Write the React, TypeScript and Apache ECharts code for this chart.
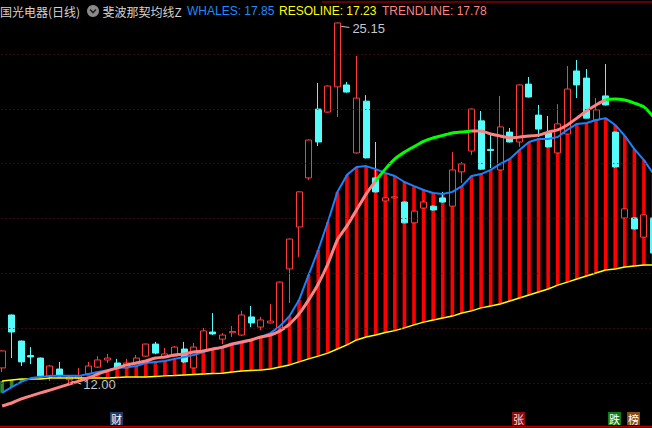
import React, { useEffect, useRef } from "react";
import * as echarts from "echarts";

// [open, close, low, high]
const ohlc: number[][] = [
  [12.55, 13.17, 12.4, 13.2],
  [14.48, 13.86, 12.91, 14.5],
  [13.53, 12.77, 12.62, 13.55],
  [13.0, 12.95, 12.69, 13.31],
  [12.91, 12.26, 12.2, 12.93],
  [12.26, 12.62, 12.07, 12.66],
  [12.51, 12.29, 12.27, 12.77],
  [12.12, 12.22, 12.0, 12.28],
  [12.18, 12.26, 12.11, 12.55],
  [12.33, 12.62, 12.3, 12.77],
  [12.58, 12.84, 12.55, 12.98],
  [12.84, 12.91, 12.73, 13.06],
  [12.73, 12.55, 12.5, 12.88],
  [12.55, 12.73, 12.52, 12.88],
  [12.73, 12.91, 12.7, 13.02],
  [12.98, 13.42, 12.95, 13.44],
  [13.42, 13.09, 13.05, 13.5],
  [12.95, 13.06, 12.93, 13.28],
  [12.98, 13.31, 12.96, 13.35],
  [13.24, 12.77, 12.73, 13.5],
  [12.55, 13.31, 12.53, 13.46],
  [13.17, 13.9, 13.15, 14.01],
  [13.86, 13.79, 13.75, 14.55],
  [13.6, 13.75, 13.42, 13.82],
  [13.83, 13.88, 13.68, 14.08],
  [13.75, 14.48, 13.72, 14.63],
  [14.41, 14.19, 14.04, 14.81],
  [14.04, 14.3, 13.93, 14.41],
  [14.19, 14.26, 14.17, 14.88],
  [14.01, 15.68, 13.99, 15.7],
  [16.16, 17.25, 14.92, 17.27],
  [17.69, 18.97, 16.6, 19.0],
  [19.48, 20.86, 19.4, 20.88],
  [21.99, 20.79, 20.64, 22.94],
  [21.88, 22.83, 21.86, 22.85],
  [22.8, 25.13, 21.7, 25.15],
  [22.87, 22.61, 22.59, 22.98],
  [20.39, 22.39, 20.37, 23.93],
  [22.28, 20.21, 20.19, 22.5],
  [19.48, 18.97, 18.95, 20.79],
  [18.64, 18.75, 18.62, 18.77],
  [18.75, 18.79, 18.73, 18.81],
  [18.6, 17.84, 17.82, 18.62],
  [17.84, 18.27, 17.82, 18.29],
  [18.38, 18.6, 18.36, 18.67],
  [18.45, 18.31, 18.29, 18.47],
  [18.75, 18.6, 18.58, 18.97],
  [18.45, 19.77, 18.43, 20.42],
  [19.7, 19.99, 19.29, 20.06],
  [20.46, 21.99, 20.32, 22.01],
  [21.56, 19.8, 19.78, 21.92],
  [20.52, 20.48, 19.84, 21.12],
  [19.77, 21.34, 19.75, 22.47],
  [21.15, 20.79, 20.77, 21.3],
  [20.79, 22.87, 20.61, 22.89],
  [22.9, 22.43, 22.41, 23.16],
  [21.77, 21.26, 20.97, 22.14],
  [21.12, 20.61, 20.59, 21.74],
  [20.39, 21.45, 20.37, 22.17],
  [21.08, 22.72, 21.06, 23.56],
  [23.38, 22.87, 22.39, 23.78],
  [23.12, 21.66, 21.64, 23.45],
  [21.59, 21.96, 21.57, 22.39],
  [22.47, 22.14, 22.12, 23.63],
  [21.15, 19.88, 19.86, 21.17],
  [18.02, 18.35, 18.0, 18.37],
  [18.02, 17.62, 17.6, 18.04],
  [17.32, 18.13, 17.3, 18.15],
  [18.02, 16.74, 16.72, 18.04],
];

const whales = [
  11.64, 11.85, 12.04, 12.18, 12.22, 12.26, 12.26, 12.26, 12.26, 12.33,
  12.4, 12.47, 12.55, 12.57, 12.62, 12.73, 12.77, 12.8, 12.88, 12.95,
  13.02, 13.13, 13.24, 13.28, 13.39, 13.46, 13.57, 13.68, 13.82, 14.08,
  14.44, 15.03, 15.94, 16.85, 17.87, 18.97, 19.59, 19.88, 19.91, 19.8,
  19.66, 19.55, 19.33, 19.18, 19.04, 18.93, 18.89, 18.97, 19.18, 19.55,
  19.62, 19.77, 19.99, 20.17, 20.5, 20.79, 20.9, 20.9, 20.97, 21.23,
  21.45, 21.48, 21.59, 21.66, 21.41, 21.01, 20.53, 20.13, 19.62,
];

const resoline = [
  12.07, 12.11, 12.15, 12.15, 12.15, 12.18, 12.18, 12.18, 12.18, 12.18,
  12.18, 12.18, 12.2, 12.22, 12.22, 12.22, 12.24, 12.26, 12.27, 12.29,
  12.31, 12.33, 12.35, 12.36, 12.4, 12.44, 12.46, 12.47, 12.51, 12.58,
  12.66, 12.77, 12.88, 12.98, 13.09, 13.24, 13.39, 13.57, 13.68, 13.75,
  13.84, 13.91, 14.01, 14.12, 14.22, 14.3, 14.37, 14.44, 14.55, 14.63,
  14.74, 14.81, 14.88, 14.99, 15.1, 15.21, 15.32, 15.43, 15.57, 15.68,
  15.79, 15.9, 16.01, 16.12, 16.16, 16.23, 16.27, 16.3, 16.3,
];

const trendline = [
  11.16, 11.27, 11.42, 11.53, 11.64, 11.74, 11.85, 11.96, 12.07, 12.18,
  12.33, 12.44, 12.55, 12.66, 12.73, 12.8, 12.91, 12.95, 13.02, 13.06,
  13.13, 13.17, 13.24, 13.31, 13.42, 13.5, 13.57, 13.68, 13.75, 13.9,
  14.15, 14.52, 15.03, 15.61, 16.34, 17.22, 17.73, 18.31, 18.89, 19.37,
  19.8, 20.17, 20.42, 20.62, 20.81, 20.94, 21.03, 21.12, 21.15, 21.19,
  21.19, 21.08, 21.01, 20.94, 20.97, 21.01, 21.04, 21.15, 21.23, 21.41,
  21.66, 21.92, 22.14, 22.32, 22.36, 22.32, 22.21, 22.07, 21.7,
];

// indices where the trend line is drawn green
const trendGreenIdx = [19, 39, 40, 41, 42, 43, 44, 45, 46, 47, 48, 50, 53, 57, 61, 63, 64, 65, 66, 67, 68];

const gridLevels = [12, 14, 16, 18, 20, 22, 24];

const title = {
  name: "国光电器(日线)",
  indicator: "斐波那契均线Z",
  whales: "WHALES: 17.85",
  reso: "RESOLINE: 17.23",
  trend: "TRENDLINE: 17.78",
};

const badges = [
  { text: "财", bg: "#1d3c6e", fg: "#ffffff", x: 110 },
  { text: "张", bg: "#8a0c0c", fg: "#ffd8d8", x: 512 },
  { text: "跌", bg: "#107a14", fg: "#ffffff", x: 608 },
  { text: "榜", bg: "#8a4a12", fg: "#ffffff", x: 627 },
];

function buildGreenPieces() {
  const pieces: any[] = [];
  let start = -1;
  for (let i = 0; i <= ohlc.length; i++) {
    const g = trendGreenIdx.includes(i);
    if (g && start < 0) start = i;
    if (!g && start >= 0) {
      const end = i - 1;
      if (end === start) pieces.push({ gte: start - 0.25, lte: start + 0.4, color: "#00ff00" });
      else pieces.push({ gte: start - 0.05, lte: end + (end === ohlc.length - 1 ? 2 : 1.0), color: "#00ff00" });
      start = -1;
    }
  }
  return pieces;
}

export default function App() {
  const ref = useRef<HTMLDivElement>(null);
  useEffect(() => {
    if (!ref.current) return;
    const chart = echarts.init(ref.current, undefined, { renderer: "svg" });
    const cats = ohlc.map((_, i) => String(i + 1));
    const barData = ohlc.map((_, i) => [i, resoline[i], whales[i]]);
    const yMax = 25.968;
    const yMin = 10.359;
    chart.setOption({
      animation: false,
      backgroundColor: "#000000",
      grid: {
        left: -2.69,
        width: 661,
        top: 0,
        height: 428,
        containLabel: false,
        outerBoundsMode: "none",
      },
      xAxis: {
        type: "category",
        data: cats,
        boundaryGap: true,
        axisLine: { show: false },
        axisTick: { show: false },
        axisLabel: { show: false },
        splitLine: { show: false },
      },
      yAxis: {
        type: "value",
        min: yMin,
        max: yMax,
        axisLine: { show: false },
        axisTick: { show: false },
        axisLabel: { show: false },
        splitLine: { show: false },
      },
      visualMap: {
        show: false,
        type: "piecewise",
        seriesIndex: 4,
        dimension: 0,
        pieces: buildGreenPieces(),
        outOfRange: { color: "#ff8282" },
      },
      series: [
        {
          type: "custom",
          name: "sticks",
          data: barData,
          encode: { x: 0, y: [1, 2] },
          renderItem: (params: any, api: any) => {
            const k = api.value(0);
            const a = api.value(1);
            const b = api.value(2);
            const p1 = api.coord([k, a]);
            const p2 = api.coord([k, b]);
            const w = 3.6;
            return {
              type: "rect",
              shape: { x: p1[0] - w / 2, y: Math.min(p1[1], p2[1]), width: w, height: Math.abs(p1[1] - p2[1]) },
              style: { fill: b >= a ? "#ff0000" : "#2e8b2e" },
            };
          },
          markLine: {
            symbol: "none",
            silent: true,
            label: { show: false },
            lineStyle: { color: "#8e0000", type: [1, 3], width: 1 },
            data: gridLevels.map((v) => ({ yAxis: v })),
          },
          z: 1,
        },
        {
          type: "candlestick",
          data: ohlc,
          barWidth: 6.5,
          itemStyle: {
            color: "#000000",
            borderColor: "#ff3b3b",
            color0: "#54fcfc",
            borderColor0: "#54fcfc",
            borderWidth: 1,
          },
          z: 2,
        },
        {
          type: "line",
          data: resoline,
          showSymbol: false,
          lineStyle: { color: "#ffff00", width: 1.5 },
          z: 3,
        },
        {
          type: "line",
          data: whales,
          showSymbol: false,
          lineStyle: { color: "#1a82ff", width: 2 },
          z: 3,
        },
        {
          type: "line",
          data: trendline,
          showSymbol: false,
          smooth: 0.2,
          clip: false,
          lineStyle: { width: 3 },
          z: 4,
        },
      ],
    });

    // annotations for highest high and lowest low
    let hi = 0;
    let lo = 0;
    ohlc.forEach((d, i) => {
      if (d[3] > ohlc[hi][3]) hi = i;
      if (d[2] < ohlc[lo][2]) lo = i;
    });
    const ph = chart.convertToPixel({ gridIndex: 0 }, [hi, ohlc[hi][3]]) as number[];
    const pl = chart.convertToPixel({ gridIndex: 0 }, [lo, ohlc[lo][2]]) as number[];
    const cjk = '"Noto Sans CJK SC", "Noto Sans", sans-serif';
    const lat = '"Liberation Sans", Arial, sans-serif';
    const graphics: any[] = [
      { type: "line", shape: { x1: 322, y1: 2, x2: 652, y2: 2 }, style: { stroke: "#c00000", lineWidth: 1 } },
      { type: "line", shape: { x1: 0, y1: 426.5, x2: 652, y2: 426.5 }, style: { stroke: "#b00000", lineWidth: 1.5 } },
      { type: "text", x: 0, y: 11, style: { text: title.name, fill: "#d2d2d2", font: `12px ${cjk}`, verticalAlign: "middle" } },
      { type: "circle", shape: { cx: 93, cy: 11, r: 6 }, style: { fill: "#8a8a8a" } },
      { type: "polyline", shape: { points: [[90, 9.5], [93, 12.5], [96, 9.5]] }, style: { stroke: "#202020", lineWidth: 1.6, fill: null } },
      { type: "text", x: 102.5, y: 11, style: { text: title.indicator, fill: "#d2d2d2", font: `12px ${cjk}`, verticalAlign: "middle" } },
      { type: "text", x: 187, y: 11, style: { text: title.whales, fill: "#1e8cff", font: `12px ${lat}`, verticalAlign: "middle" } },
      { type: "text", x: 279, y: 11, style: { text: title.reso, fill: "#ffff00", font: `12px ${lat}`, verticalAlign: "middle" } },
      { type: "text", x: 382, y: 11, style: { text: title.trend, fill: "#ff8282", font: `12px ${lat}`, verticalAlign: "middle" } },
      { type: "polyline", shape: { points: [[ph[0] + 1, ph[1] + 6], [ph[0] + 1, ph[1] + 1], [ph[0] + 4, ph[1] + 4], [ph[0] + 12, ph[1] + 5]] }, style: { stroke: "#c8c8c8", lineWidth: 1, fill: null } },
      { type: "text", x: ph[0] + 15, y: ph[1] + 6.5, style: { text: ohlc[hi][3].toFixed(2), fill: "#c8c8c8", font: `13px ${lat}`, verticalAlign: "middle" } },
      { type: "line", shape: { x1: pl[0] + 2, y1: pl[1] - 2, x2: pl[0] + 12, y2: pl[1] + 1 }, style: { stroke: "#c8c8c8", lineWidth: 1 } },
      { type: "text", x: pl[0] + 14, y: pl[1] + 1, style: { text: ohlc[lo][2].toFixed(2), fill: "#c8c8c8", font: `13px ${lat}`, verticalAlign: "middle" } },
    ];
    badges.forEach((b) => {
      graphics.push({ type: "rect", shape: { x: b.x, y: 412, width: 13, height: 13 }, style: { fill: b.bg } });
      graphics.push({ type: "text", x: b.x + 6.5, y: 418.5, style: { text: b.text, fill: b.fg, font: `11px ${cjk}`, align: "center", verticalAlign: "middle" } });
    });
    chart.setOption({ graphic: graphics });
    return () => chart.dispose();
  }, []);
  return (
    <div
      ref={ref}
      style={{ position: "fixed", left: 0, top: 0, width: 652, height: 428, background: "#000" }}
    />
  );
}
